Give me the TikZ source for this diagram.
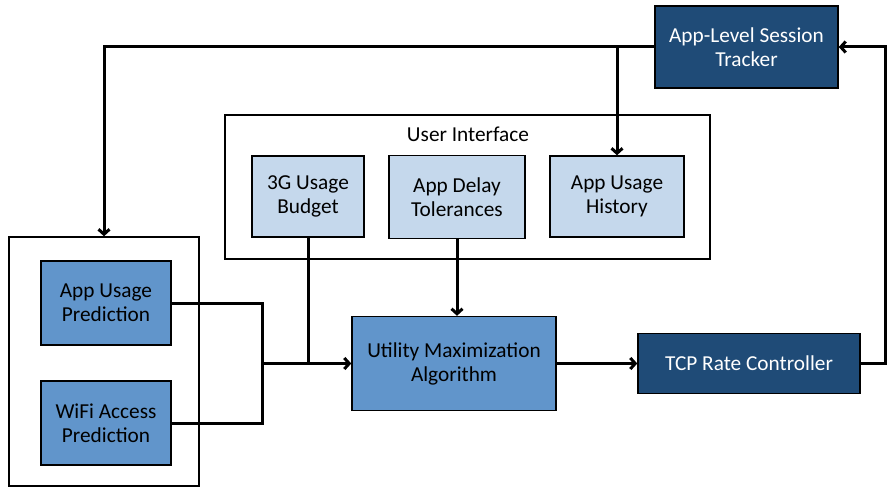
\documentclass[tikz,border=0pt]{standalone}
\usepackage{fontspec}
\setmainfont{Carlito}
\usetikzlibrary{arrows.meta}
\definecolor{navyblue}{HTML}{1F4B77}
\definecolor{midblue}{HTML}{6195CB}
\definecolor{paleblue}{HTML}{C5D8EC}
\begin{document}
\begin{tikzpicture}[x=1pt,y=-1pt,
    box/.style={draw=black,line width=1.4pt,align=center,inner sep=0pt,
      font=\fontsize{21.3}{24}\selectfont},
    darkbox/.style={box,fill=navyblue,text=white},
    midbox/.style={box,fill=midblue},
    palebox/.style={box,fill=paleblue},
    frame/.style={draw=black,line width=1.4pt,inner sep=0pt},
    flow/.style={line width=3pt,-{Straight Barb[length=5pt,width=11pt]}},
    link/.style={line width=3pt}]
  \useasboundingbox (0,0) rectangle (896,494);
  \node[frame,minimum width=485,minimum height=144] (ui) at (467.5,187) {};
  \node[font=\fontsize{21.3}{24}\selectfont] (uilabel) at (468,134) {User Interface};
  \node[frame,minimum width=190,minimum height=249] (predictors) at (104,361.5) {};
  \node[darkbox,minimum width=183,minimum height=82] (tracker) at (746.5,47) {App-Level Session\\Tracker};
  \node[palebox,minimum width=112,minimum height=81] (budget) at (308,196.5) {3G Usage\\Budget};
  \node[palebox,minimum width=136,minimum height=83] (delay) at (457,197) {App Delay\\Tolerances};
  \node[palebox,minimum width=134,minimum height=81] (history) at (617,196.5) {App Usage\\History};
  \node[midbox,minimum width=130,minimum height=84] (usagepred) at (106,303) {App Usage\\Prediction};
  \node[midbox,minimum width=130,minimum height=84] (wifipred) at (106,423) {WiFi Access\\Prediction};
  \node[midbox,minimum width=204,minimum height=94] (utility) at (454,363.5) {Utility Maximization\\Algorithm};
  \node[darkbox,minimum width=222,minimum height=60] (tcp) at (749,363.5) {TCP Rate Controller};
  \coordinate (join) at (262,363.5);
  \coordinate (turn) at (885,363.5);

  \draw[flow] (tracker.west) -| (predictors.north);
  \draw[flow] (history.north |- tracker.west) -- (history.north);
  \draw[link] (usagepred.east) -| (join);
  \draw[link] (wifipred.east) -| (join);
  \draw[link] (budget.south) -- (budget.south |- utility.west);
  \draw[flow] (join) -- (utility.west);
  \draw[flow] (delay.south) -- (delay.south |- utility.north);
  \draw[flow] (utility.east) -- (tcp.west);
  \draw[flow] (tcp.east) -- (turn) |- (tracker.east);
\end{tikzpicture}
\end{document}
